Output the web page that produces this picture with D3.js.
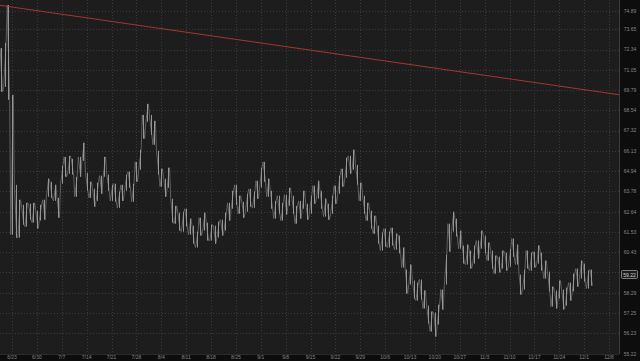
<!DOCTYPE html>
<html>
<head>
<meta charset="utf-8">
<script src="https://cdn.jsdelivr.net/npm/d3@7"></script>
<style>
  body { margin: 0; background: #0d0d0d; }
  svg { display: block; }
</style>
</head>
<body>
<svg width="640" height="361"></svg>
<script>
// daily highs / lows, starting 6/20/2025
const firstDay = new Date(2025, 5, 20)
const highs = [
  72.45, 72.78, 75.27, 69.49, 64.16, 63.31, 63.03, 63.14, 63.09, 63.14,
  62.70, 63.03, 63.31, 64.51, 64.33, 64.16, 63.42, 65.25, 65.77, 65.83,
  65.66, 64.62, 65.77, 66.60, 64.85, 64.33, 63.93, 64.28, 64.68, 65.77,
  64.74, 64.16, 64.22, 63.77, 64.16, 64.74, 64.91, 64.22, 65.48, 66.19,
  68.27, 68.94, 68.27, 67.91, 66.13, 65.08, 64.51, 65.14, 63.37, 62.97,
  62.59, 62.64, 62.81, 62.26, 61.87, 61.54, 62.31, 62.59, 62.04, 61.93,
  61.87, 62.09, 62.20, 62.59, 63.14, 63.82, 64.16, 63.54, 63.20, 63.65,
  63.93, 63.77, 64.39, 65.14, 65.48, 64.51, 63.82, 63.25, 63.54, 63.14,
  63.60, 63.99, 63.54, 62.97, 63.25, 63.82, 63.09, 63.54, 64.11, 64.39,
  63.82, 63.37, 63.09, 63.54, 64.11, 64.68, 65.08, 65.72, 65.83, 66.19,
  65.31, 64.28, 63.54, 63.14, 62.70, 62.42, 61.87, 61.49, 61.71, 61.54,
  61.76, 61.43, 61.33, 60.68, 59.50, 59.77, 58.93, 58.82, 58.98, 58.41,
  57.63, 57.33, 57.27, 57.68, 58.46, 60.30, 61.98, 62.64, 62.26, 61.60,
  60.79, 60.84, 60.52, 60.79, 61.06, 61.60, 61.33, 60.95, 60.52, 60.25,
  60.19, 60.52, 60.41, 60.62, 61.17, 60.84, 59.24, 59.50, 60.52, 60.41,
  60.46, 60.79, 60.41, 59.98, 59.40, 58.61, 58.41, 58.93, 58.46, 58.56,
  58.82, 59.29, 59.56, 59.98, 59.82, 59.45, 59.50
]
const lows = [
  69.68, 69.99, 69.19, 61.38, 61.22, 61.22, 61.93, 61.82, 62.20, 62.04,
  61.71, 62.15, 62.20, 63.48, 63.42, 63.25, 62.31, 64.22, 64.62, 64.79,
  64.74, 63.48, 64.62, 65.54, 63.82, 63.42, 62.92, 63.25, 63.65, 64.62,
  63.82, 63.25, 63.20, 62.86, 63.25, 63.82, 63.99, 63.20, 64.33, 65.02,
  66.84, 67.85, 67.07, 66.48, 64.74, 64.05, 63.48, 63.99, 62.04, 61.98,
  61.60, 61.54, 61.82, 61.38, 60.89, 60.68, 61.33, 61.60, 61.06, 61.06,
  60.89, 61.22, 61.33, 61.60, 62.15, 62.81, 63.03, 62.53, 62.31, 62.64,
  62.92, 62.86, 63.37, 63.99, 64.33, 63.48, 62.81, 62.26, 62.53, 62.15,
  62.48, 62.97, 62.53, 61.98, 62.26, 62.81, 62.20, 62.53, 63.09, 63.37,
  62.81, 62.37, 62.20, 62.53, 63.09, 63.65, 64.05, 64.56, 64.79, 65.02,
  64.16, 63.25, 62.53, 62.15, 61.71, 61.43, 60.89, 60.52, 60.73, 60.68,
  60.79, 60.57, 60.36, 59.61, 58.25, 58.72, 57.99, 57.89, 57.94, 57.48,
  56.72, 56.32, 56.07, 56.67, 57.43, 58.72, 60.46, 61.54, 61.27, 60.62,
  59.82, 59.77, 59.56, 59.82, 60.09, 60.62, 60.36, 59.98, 59.56, 59.29,
  59.35, 59.56, 59.45, 59.66, 60.19, 59.77, 58.20, 58.46, 59.56, 59.45,
  59.61, 59.82, 59.45, 59.03, 58.36, 57.58, 57.48, 57.99, 57.43, 57.63,
  57.89, 58.36, 58.61, 59.03, 58.87, 58.51, 58.66
]
const lastPrice = 59.22

const priceTicks = [74.89, 73.65, 72.34, 71.05, 69.79, 68.54, 67.32, 66.13, 64.94,
  63.78, 62.64, 61.53, 60.43, 59.36, 58.29, 57.25, 56.23, 55.22]
const weekLabels = ["6/23", "6/30", "7/7", "7/14", "7/21", "7/28", "8/4", "8/11", "8/18",
  "8/25", "9/1", "9/8", "9/15", "9/22", "9/29", "10/6", "10/13", "10/20", "10/27",
  "11/3", "11/10", "11/17", "11/24", "12/1", "12/8"]

// trend line end points
const trendDates = [new Date(2025, 5, 19), new Date(2025, 11, 11)]
const trendPrices = [75.27, 69.50]

const plotW = 619, plotH = 354

const svg = d3.select("svg")

const xScale = d3.scaleTime()
    .domain([new Date(2025, 5, 23), new Date(2025, 11, 8)])
    .range([12, 609])
const yScale = d3.scaleLog().domain([56.23, 74.89]).range([333.3, 10.7])

// backgrounds
svg.append("rect").attr("width", plotW).attr("height", plotH).attr("fill", "#1d1d1d")
svg.append("defs").append("clipPath").attr("id", "plotClip")
    .append("rect").attr("width", plotW).attr("height", plotH)

// grid
const weekDates = weekLabels.map((d, i) => d3.timeDay.offset(new Date(2025, 5, 23), i * 7))

svg.append("g")
    .attr("id", "xGrid")
    .selectAll("line")
    .data(weekDates)
    .enter()
    .append("line")
    .attr("x1", d => Math.round(xScale(d)) + 0.5)
    .attr("x2", d => Math.round(xScale(d)) + 0.5)
    .attr("y1", 0)
    .attr("y2", plotH)
    .attr("stroke", "#3a3a3a")
    .attr("stroke-dasharray", "1,2")

svg.append("g")
    .attr("id", "yGrid")
    .selectAll("line")
    .data(priceTicks)
    .enter()
    .append("line")
    .attr("x1", 0)
    .attr("x2", plotW + 3)
    .attr("y1", d => Math.round(yScale(d)) + 0.5)
    .attr("y2", d => Math.round(yScale(d)) + 0.5)
    .attr("stroke", "#3a3a3a")
    .attr("stroke-dasharray", "1,2")

// price: thin zigzag through highs and lows, with a crisp bar for each day
const pts = []
highs.forEach((h, i) => {
    const x = xScale(d3.timeDay.offset(firstDay, i))
    const a = i % 2 === 0 ? [h, lows[i]] : [lows[i], h]
    pts.push([x - 1.2, yScale(a[0])])
    pts.push([x + 1.2, yScale(a[1])])
})

const priceG = svg.append("g").attr("clip-path", "url(#plotClip)")

priceG.append("path")
    .attr("d", d3.line()(pts))
    .attr("fill", "none")
    .attr("stroke", "#6e6e6e")
    .attr("stroke-width", 0.8)

priceG.selectAll("line.bar")
    .data(highs)
    .enter()
    .append("line")
    .attr("class", "bar")
    .attr("x1", (d, i) => Math.round(xScale(d3.timeDay.offset(firstDay, i))) + 0.5)
    .attr("x2", (d, i) => Math.round(xScale(d3.timeDay.offset(firstDay, i))) + 0.5)
    .attr("y1", d => yScale(d))
    .attr("y2", (d, i) => yScale(lows[i]))
    .attr("stroke", "#959595")
    .attr("stroke-width", 1)

// trend line
svg.append("g")
    .attr("clip-path", "url(#plotClip)")
    .append("line")
    .attr("x1", xScale(trendDates[0]))
    .attr("y1", yScale(trendPrices[0]))
    .attr("x2", xScale(trendDates[1]))
    .attr("y2", yScale(trendPrices[1]))
    .attr("stroke", "#a83434")
    .attr("stroke-width", 1)

// axes frame
svg.append("rect").attr("x", plotW).attr("y", 0).attr("width", 640 - plotW).attr("height", 361).attr("fill", "#0d0d0d")
svg.append("rect").attr("x", 0).attr("y", plotH).attr("width", 640).attr("height", 361 - plotH).attr("fill", "#0d0d0d")
svg.append("line").attr("x1", plotW + 0.5).attr("x2", plotW + 0.5).attr("y1", 0).attr("y2", plotH)
    .attr("stroke", "#3c3c3c")
svg.append("line").attr("x1", 0).attr("x2", plotW).attr("y1", plotH + 0.5).attr("y2", plotH + 0.5)
    .attr("stroke", "#2a2a2a")

svg.append("g")
    .attr("id", "yLabels")
    .selectAll("text")
    .data(priceTicks.filter(d => d !== 59.36))
    .enter()
    .append("text")
    .attr("x", 630)
    .attr("y", d => yScale(d) + 1.8)
    .attr("text-anchor", "middle")
    .attr("font-family", "Liberation Sans, Arial, sans-serif")
    .attr("font-size", 5)
    .attr("fill", "#858585")
    .text(d => d.toFixed(2))

svg.append("g")
    .attr("id", "xLabels")
    .selectAll("text")
    .data(weekDates)
    .enter()
    .append("text")
    .attr("x", d => xScale(d))
    .attr("y", 359)
    .attr("text-anchor", "middle")
    .attr("font-family", "Liberation Sans, Arial, sans-serif")
    .attr("font-size", 5)
    .attr("fill", "#858585")
    .text((d, i) => weekLabels[i])

// last price marker
const lastY = yScale(lastPrice)
svg.append("rect")
    .attr("x", 621.5).attr("y", lastY - 4.5)
    .attr("width", 16).attr("height", 8)
    .attr("rx", 1)
    .attr("fill", "#1b1b1b")
    .attr("stroke", "#9a9a9a")
    .attr("stroke-width", 0.8)
svg.append("text")
    .attr("x", 629.5).attr("y", lastY + 1.6)
    .attr("text-anchor", "middle")
    .attr("font-family", "Liberation Sans, Arial, sans-serif")
    .attr("font-size", 5)
    .attr("fill", "#d0d0d0")
    .text(lastPrice.toFixed(2))
</script>
</body>
</html>
